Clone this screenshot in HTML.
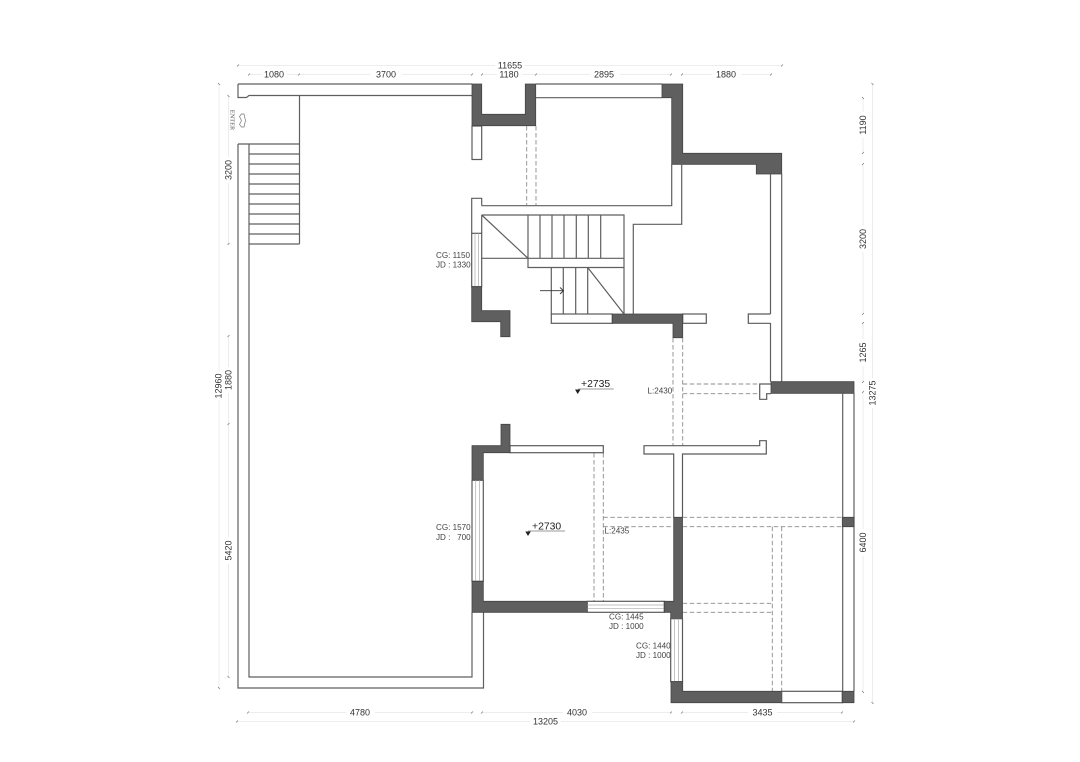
<!DOCTYPE html>
<html>
<head>
<meta charset="utf-8">
<style>
html,body{margin:0;padding:0;background:#fff;width:1080px;height:762px;overflow:hidden}
svg{display:block}
text{font-family:"Liberation Sans",sans-serif}
.w{fill:#fff;stroke:#5a5a5a;stroke-width:1.200}
.l{fill:none;stroke:#5f5f5f;stroke-width:1.200}
.d{fill:#5f5f5f;stroke:#444;stroke-width:.8}
.h{fill:none;stroke:#8c8c8c;stroke-width:.9;stroke-dasharray:4.500 2.500}
.g{fill:none;stroke:#e8e8e8;stroke-width:.8}
.t{fill:none;stroke:#777;stroke-width:.7}
.dim{font-size:9px;fill:#333;text-anchor:middle;dominant-baseline:central}
.lb{font-size:8.100px;fill:#444}
.win{fill:none;stroke:#aaa;stroke-width:.7}
</style>
</head>
<body>
<svg width="1080" height="762" viewBox="0 0 1080 762" xmlns="http://www.w3.org/2000/svg">
<!-- dimension lines -->
<path class="g" d="M238 65.500H495M525 65.500H782M249 74.500H262M287 74.500H370M402 74.500H472M482 74.500H497M522 74.500H536M536 74.500H590M620 74.500H671M682 74.500H712M741 74.500H771"/>
<path class="g" d="M863 98V112M863 138V153M863 164V226M863 252V314M863 323V339M863 366V382M863 392V529M863 556V692M872.500 84V378M872.500 408V703"/>
<path class="g" d="M228.500 96V157M228.500 183V244M228.500 336V367M228.500 393V424M228.500 424V537M228.500 564V677M219 84V372M219 400V688"/>
<path class="g" d="M248 712.500H346M375 712.500H472M482 712.500H563M592 712.500H671M682 712.500H748M777 712.500H842M237 721.500H530M561 721.500H854"/>
<!-- ticks -->
<path class="t" d="M237 66.500l2-2M781 66.500l2-2M248 75.500l2-2M298 75.500l2-2M471 75.500l2-2M481 75.500l2-2M535 75.500l2-2M670 75.500l2-2M681 75.500l2-2M770 75.500l2-2"/>
<path class="t" d="M862 97l2 2M862 154l2-2M862 165l2-2M862 315l2-2M862 324l2-2M862 383l2-2M862 393l2-2M862 691l2 2M871.500 83l2 2M871.500 702l2 2"/>
<path class="t" d="M227.500 95l2 2M227.500 245l2-2M227.500 337l2-2M227.500 425l2-2M227.500 676l2 2M218 83l2 2M218 687l2 2"/>
<path class="t" d="M247 713.500l2-2M471 713.500l2-2M481 713.500l2-2M670 713.500l2-2M681 713.500l2-2M841 713.500l2-2M236 722.500l2-2M853 722.500l2-2"/>

<!-- left big wall outline -->
<path class="l" d="M238 144V688H483.500V612.500M249 144V677H472V612.500"/>
<path class="l" d="M238 144H299.500M238 84H472M238 84V97.500H246.500L249 95.500H472M299.500 96V244M249 244H299.500"/>
<path class="l" d="M249 154H299.500M249 164H299.500M249 174H299.500M249 184H299.500M249 194H299.500M249 204H299.500M249 214H299.500M249 224H299.500M249 234H299.500"/>

<!-- top walls -->
<rect class="w" x="472" y="126" width="9.700" height="33.500"/>
<path class="d" d="M472 84H481.700V114.300H525.300V84H535.700V125.700H472Z"/>
<path class="l" d="M536 84H662M536 97.700H662"/>
<path class="d" d="M662 84H682.700V153.300H781.700V174H756.300V164.300H671.700V97.700H662Z"/>
<path class="h" d="M526.700 126V205M536 126V205"/>
<path class="l" d="M671.700 164V205.700H481.700M481.700 205.700V198.300H471.700V233M681.700 164V224.300H633.300V314M770.500 174V314M781.700 174V381.700"/>

<!-- stair -->
<path class="l" d="M481.700 215H624V314M481.700 215V233.300M481.700 215L528 258.300V267.500H624M481.700 258.300H624M528 215V258.300"/>
<path class="l" d="M540 215V258M552 215V258M564 215V258M576.300 215V258M588.300 215V258M600.700 215V258"/>
<path class="l" d="M551.300 267.500V314M563.300 267.500V314M575.700 267.500V314M587.700 267.500V314M587.700 267.500L624 314"/>
<path d="M540 290.700H563.500M560 287.500L563.500 290.700L560 294" fill="none" stroke="#333" stroke-width=".9"/>

<!-- window left upper -->
<rect class="w" x="471.700" y="233.300" width="10" height="53.400"/>
<path class="win" d="M475 233.300V286.700M478.400 233.300V286.700"/>
<path class="d" d="M471.700 286.700H481.700V310.700H510V336.700H500.700V321.700H471.700Z"/>

<!-- mid horizontal wall -->
<rect class="w" x="551.300" y="314" width="61" height="9.300"/>
<rect class="w" x="682.700" y="314" width="23.600" height="9.300"/>
<path class="d" d="M612.300 314H682.700V337.700H673V323.300H612.300Z"/>
<path class="w" d="M770.500 314H748.300V323.300H770.500" style="fill:#fff"/>
<path class="l" d="M770.500 323V381.700"/>
<path class="h" d="M673 338V445.500M682.700 338V445.500M682.700 384H759.700M682.700 393.700H759.700"/>
<path class="w" d="M771 384H759.700V399.300H766.700V393.700H771"/>
<path class="d" d="M771 381.700H854V393.300H771Z"/>
<path class="l" d="M842.700 393.300V691.300M854 393.300V691.300"/>

<!-- wall below -->
<path class="w" d="M673.700 517.300V454H644V445.700H759.700V440.700H766.300V454H682.500V517.300"/>
<path class="h" d="M594 453V601M603.300 453V601M603.300 517.300H673.500M682.700 517.300H842.300M603.300 526.700H673.500M682.700 526.700H842.300M772.300 526.700V691M781.700 526.700V691M682.700 603.300H772.300M682.700 612.300H772.300"/>

<!-- room -->
<rect class="w" x="510" y="445.700" width="93.300" height="7"/>
<path class="d" d="M472 445.700H501V424.300H510V452.700H483.300V480.300H472Z"/>
<rect class="w" x="472" y="480.300" width="11.300" height="101"/>
<path class="win" d="M475.700 480.300V581.300M479.500 480.300V581.300"/>
<path class="d" d="M472 581.300H483.300V601.300H587.300V612.300H472Z"/>
<rect class="w" x="587.300" y="601.300" width="77" height="11"/>
<path class="win" d="M587.300 605H664.300M587.300 608.700H664.300"/>
<path class="d" d="M664.300 601.300H673.700V517.300H682.500V618.700H670.700V612.300H664.300Z"/>
<rect class="w" x="670.700" y="618.700" width="11.800" height="63"/>
<path class="win" d="M674.600 618.700V681.700M678.500 618.700V681.700"/>
<path class="d" d="M671 681.700H682.700V691.300H781.700V702.700H671Z"/>
<rect class="w" x="781.700" y="691.300" width="60.600" height="11.400"/>
<path class="d" d="M842.300 691.300H854V702.700H842.300Z"/>
<path class="d" d="M842.300 517.300H854V526.700H842.300Z"/>

<!-- level marks -->
<path d="M578 389H613.700M528 531H565" stroke="#777" stroke-width=".8" fill="none"/>
<path d="M575 389.500H580.500L577.700 394ZM525.300 531.500H530.800L528 536Z" fill="#222"/>
<text x="581" y="387" style="font-size:10.400px;fill:#222">+2735</text>
<text x="532" y="529.500" style="font-size:10.400px;fill:#222">+2730</text>

<!-- enter -->
<g transform="translate(232,120) rotate(90)"><text x="0" y="0" text-anchor="middle" dominant-baseline="central" style="font-family:'Liberation Serif',serif;font-size:6.400px;fill:#555">ENTER</text></g>
<path d="M239.500 116.500L241.500 114H244L245.500 120.500L244 127H241.500L239.500 124.500L241.500 120.500Z" fill="none" stroke="#777" stroke-width=".7"/>

<!-- dim labels -->
<text class="dim" x="510" y="65.500">11655</text>
<text class="dim" x="274" y="74.500">1080</text>
<text class="dim" x="386" y="74.500">3700</text>
<text class="dim" x="509" y="74.500">1180</text>
<text class="dim" x="604" y="74.500">2895</text>
<text class="dim" x="726" y="74.500">1880</text>
<text class="dim" x="360" y="712.500">4780</text>
<text class="dim" x="577" y="712.500">4030</text>
<text class="dim" x="762.500" y="712.500">3435</text>
<text class="dim" x="545.500" y="721.500">13205</text>
<g class="dim">
<text class="dim" transform="translate(863,125) rotate(-90)">1190</text>
<text class="dim" transform="translate(863,239) rotate(-90)">3200</text>
<text class="dim" transform="translate(863,352.500) rotate(-90)">1265</text>
<text class="dim" transform="translate(863,542.500) rotate(-90)">6400</text>
<text class="dim" transform="translate(872.500,393) rotate(-90)">13275</text>
<text class="dim" transform="translate(228.500,170) rotate(-90)">3200</text>
<text class="dim" transform="translate(228.500,380) rotate(-90)">1880</text>
<text class="dim" transform="translate(228.500,550.500) rotate(-90)">5420</text>
<text class="dim" transform="translate(218.500,386) rotate(-90)">12960</text>
</g>

<!-- notes -->
<text class="lb" x="436" y="258">CG: 1150</text>
<text class="lb" x="436" y="267.500">JD : 1330</text>
<text class="lb" x="436" y="530">CG: 1570</text>
<text class="lb" x="436" y="539.800" xml:space="preserve">JD :   700</text>
<text class="lb" x="609" y="619.500">CG: 1445</text>
<text class="lb" x="609" y="629.200">JD : 1000</text>
<text class="lb" x="636" y="648.500">CG: 1440</text>
<text class="lb" x="636" y="658.200">JD : 1000</text>
<text class="lb" x="647.500" y="393.500">L:2430</text>
<text class="lb" x="604.500" y="533.500">L:2435</text>
</svg>
</body>
</html>
